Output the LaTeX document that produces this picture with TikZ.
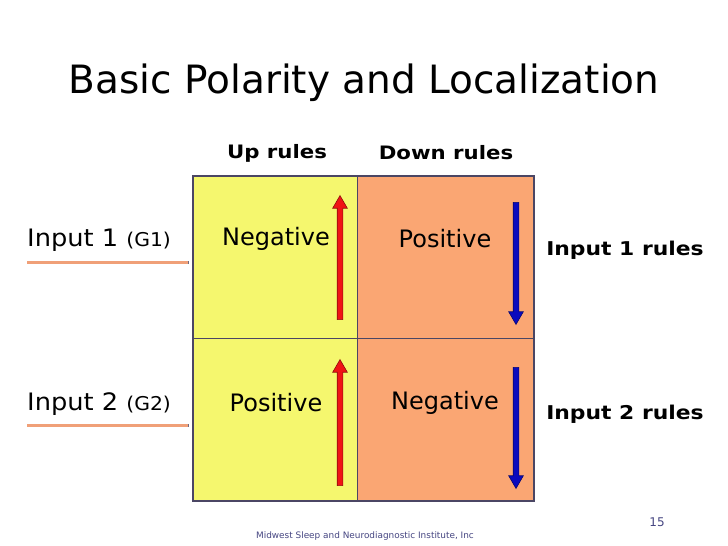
\documentclass[tikz,border=0pt]{standalone}
\usepackage{fontspec}
\setmainfont{DejaVu Sans}
\newfontfamily\widebold[FakeStretch=1.15]{DejaVu Sans}
\newfontfamily\sidefont[FakeStretch=1.07]{DejaVu Sans}
\usetikzlibrary{shapes.arrows}
\definecolor{cellyellow}{RGB}{245,247,110}
\definecolor{cellorange}{RGB}{250,166,115}
\definecolor{gridline}{RGB}{75,70,100}
\definecolor{inline}{RGB}{240,160,120}
\definecolor{footblue}{RGB}{70,70,130}
\definecolor{redfill}{RGB}{240,20,20}
\definecolor{bluefill}{RGB}{10,10,190}
\tikzset{
  cell/.style={draw=gridline, line width=0.8pt, minimum width=#1, minimum height=162, inner sep=0, anchor=north west},
  celltext/.style={font=\fontsize{24}{28}\selectfont, text=black},
  headtext/.style={font=\widebold\bfseries\fontsize{18.5}{22}\selectfont, text=black},
  sidetext/.style={font=\sidefont\fontsize{24}{28}\selectfont, text=black, anchor=west, inner sep=0},
  ruletext/.style={font=\widebold\bfseries\fontsize{19}{22}\selectfont, text=black},
  polarrow/.style={single arrow, draw=#1!60!black, fill=#1, line width=0.6pt, inner sep=2.5pt,
     single arrow head extend=4.5pt, single arrow tip angle=60, single arrow head indent=0pt, anchor=center},
}
\begin{document}
\begin{tikzpicture}[x=1pt,y=-1pt]
\useasboundingbox (0,0) rectangle (728,546);
\fill[white] (0,0) rectangle (728,546);
% title
\node[font=\fontsize{39}{45}\selectfont] (title) at (364,83) {Basic Polarity and Localization};
% column headers
\node[headtext] (up) at (277,153) {Up rules};
\node[headtext] (down) at (446,153) {Down rules};
% cells
\node[cell=164, fill=cellyellow] (c11) at (193,176) {};
\node[cell=176, fill=cellorange] (c12) at (357,176) {};
\node[cell=164, fill=cellyellow] (c21) at (193,338) {};
\node[cell=176, fill=cellorange] (c22) at (357,338) {};
\draw[gridline, line width=2pt] (c11.north west) rectangle (c22.south east);
% cell texts
\node[celltext] (n11) at (276,239) {Negative};
\node[celltext] (p12) at (445,239) {Positive};
\node[celltext] (p21) at (276,403) {Positive};
\node[celltext] (n22) at (445,403) {Negative};
% arrows
\node[polarrow=redfill, minimum height=124, rotate=90] (a1) at (340,260) {};
\node[polarrow=redfill, minimum height=126, rotate=90] (a2) at (340,425) {};
\node[polarrow=bluefill, minimum height=122, rotate=-90] (b1) at (516,261) {};
\node[polarrow=bluefill, minimum height=121, rotate=-90] (b2) at (516,425.5) {};
% inputs
\node[sidetext] (in1) at (27,240) {Input 1 {\fontsize{19}{22}\selectfont (G1)}};
\node[sidetext] (in2) at (27,404) {Input 2 {\fontsize{19}{22}\selectfont (G2)}};
\coordinate (l1a) at (27,262); \coordinate (l1b) at (188,262);
\coordinate (l2a) at (27,425); \coordinate (l2b) at (188,425);
\draw[gridline!80, line width=3.2pt] ([shift={(0.8,0.8)}]l1a) -- ([shift={(0.8,0.8)}]l1b);
\draw[inline, line width=3pt] (l1a) -- (l1b);
\draw[gridline!80, line width=3.2pt] ([shift={(0.8,0.8)}]l2a) -- ([shift={(0.8,0.8)}]l2b);
\draw[inline, line width=3pt] (l2a) -- (l2b);
% rules
\node[ruletext] (r1) at (625,250) {Input 1 rules};
\node[ruletext] (r2) at (625,414) {Input 2 rules};
% footer
\node[font=\fontsize{8.9}{11}\selectfont, text=footblue] (foot) at (365,536) {Midwest Sleep and Neurodiagnostic Institute, Inc};
\node[font=\fontsize{12}{14}\selectfont, text=footblue] (pg) at (657,522) {15};
\end{tikzpicture}
\end{document}
